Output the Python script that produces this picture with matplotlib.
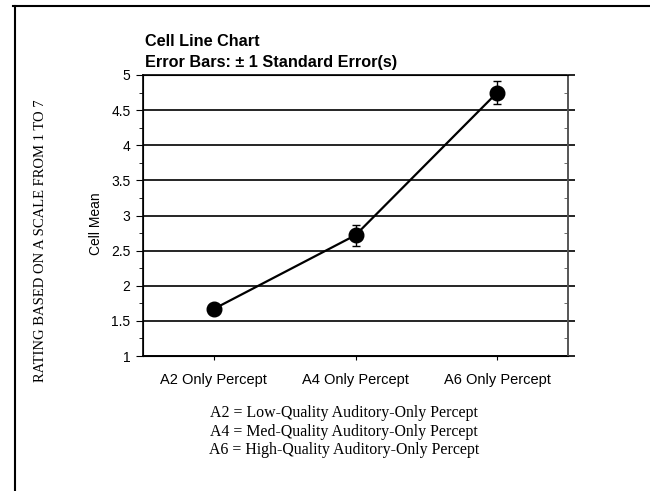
import matplotlib
matplotlib.use("Agg")
import matplotlib.pyplot as plt
from matplotlib.lines import Line2D
from matplotlib.ticker import MultipleLocator, NullFormatter

categories = ["A2 Only Percept", "A4 Only Percept", "A6 Only Percept"]
means = [1.67, 2.72, 4.75]
std_err = [0.06, 0.15, 0.16]
y_ticks = [1, 1.5, 2, 2.5, 3, 3.5, 4, 4.5, 5]
y_tick_labels = ["1", "1.5", "2", "2.5", "3", "3.5", "4", "4.5", "5"]
legend_lines = ["A2 = Low-Quality Auditory-Only Percept",
                "A4 = Med-Quality Auditory-Only Percept",
                "A6 = High-Quality Auditory-Only Percept"]

sans = ["Liberation Sans", "DejaVu Sans"]
serif = ["Liberation Serif", "DejaVu Serif"]

fig = plt.figure(figsize=(6.5, 4.91), dpi=100)
ax = fig.add_axes([143/650, 1-356/491, (568-143)/650, (356-75)/491])

x = list(range(len(categories)))
ax.errorbar(x, means, yerr=std_err, color="black", lw=1.6, marker="o",
            markersize=10.5, capsize=3, elinewidth=1, capthick=1, zorder=3)

ax.set_xlim(-0.5, 2.5)
ax.set_ylim(1, 5)
ax.set_yticks(y_ticks)
ax.set_yticklabels(y_tick_labels, fontfamily=sans, fontsize=10)
ax.yaxis.set_minor_locator(MultipleLocator(0.25))
ax.set_xticks(x)
ax.set_xticklabels(categories, fontfamily=sans, fontsize=10.5)
ax.tick_params(axis="x", length=3, pad=9)
ax.tick_params(axis="y", which="major", length=5, pad=4, direction="out")
ax.tick_params(axis="y", which="minor", length=3, direction="out")
ax.grid(axis="y", which="major", color="black", lw=1.2)
for s in ["left", "right", "top", "bottom"]:
    ax.spines[s].set_linewidth(1.2)
    ax.spines[s].set_color("black")
ax.spines["right"].set_color("#555555")

# right-side ticks: majors out (gridlines poke past spine), minors in
ax2 = ax.twinx()
ax2.set_ylim(1, 5)
ax2.set_yticks(y_ticks)
ax2.yaxis.set_major_formatter(NullFormatter())
ax2.yaxis.set_minor_locator(MultipleLocator(0.25))
ax2.tick_params(axis="y", which="major", length=5, direction="out", width=1.2)
ax2.tick_params(axis="y", which="minor", length=3, direction="in", color="#555555")
ax2.spines["right"].set_color("#555555")
ax2.spines["right"].set_linewidth(1.2)

ax.set_ylabel("Cell Mean", fontfamily=sans, fontsize=10, labelpad=6)
ax.yaxis.set_label_coords(-0.093, 0.47)

fig.text(145/650, 1-42/491, "Cell Line Chart", fontfamily=sans,
         fontweight="bold", fontsize=11.7, ha="left", va="center")
fig.text(145/650, 1-62/491, "Error Bars: \u00b1 1 Standard Error(s)", fontfamily=sans,
         fontweight="bold", fontsize=11.7, ha="left", va="center")

fig.text(41/650, 1-241/491, "RATING BASED ON A SCALE FROM 1 TO 7",
         fontfamily=serif, fontsize=10.5, rotation=90, ha="center", va="center")

for i, line in enumerate(legend_lines):
    fig.text(344/650, 1-(413 + 18.5*i)/491, line, fontfamily=serif,
             fontsize=11.4, ha="center", va="center")

fig.add_artist(Line2D([13/650, 1], [1-6/491, 1-6/491], color="black", lw=1.5,
                      transform=fig.transFigure))
fig.add_artist(Line2D([15/650, 15/650], [0, 1-6/491], color="black", lw=1.5,
                      transform=fig.transFigure))

fig.savefig("out.png", dpi=100)
